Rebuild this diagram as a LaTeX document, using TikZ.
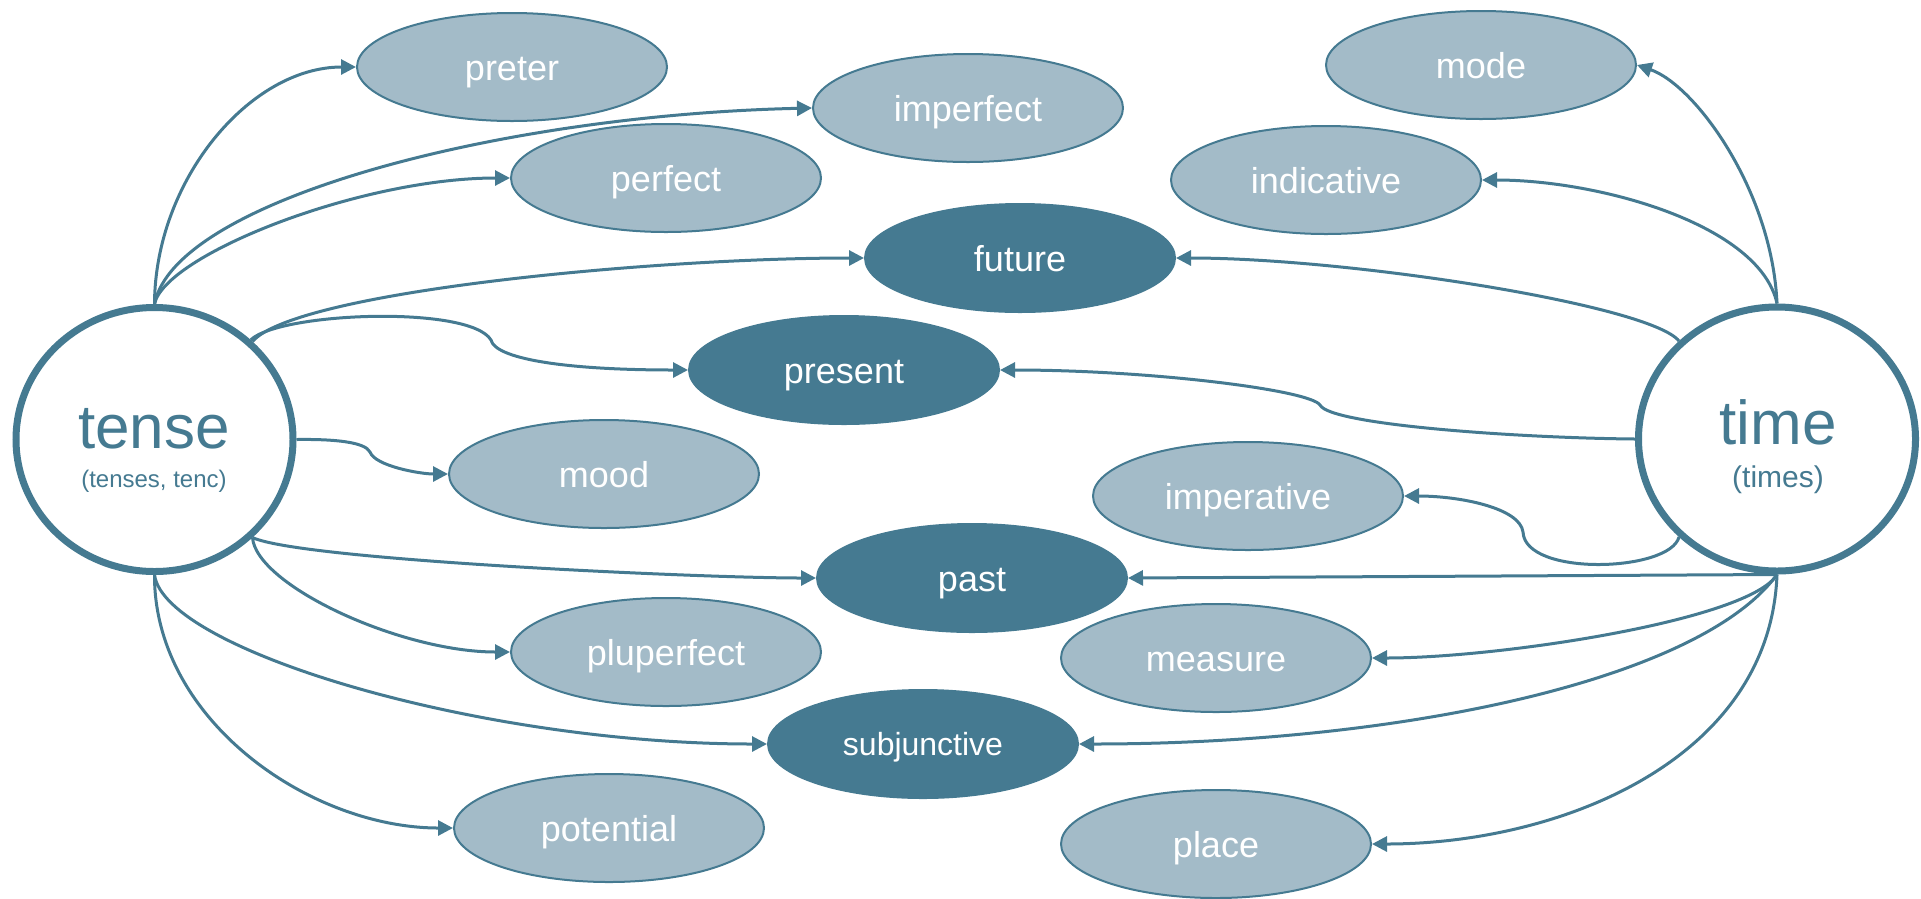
\documentclass[tikz,border=0pt]{standalone}
\usepackage{fontspec}
\setmainfont{Liberation Sans}
\usetikzlibrary{arrows.meta,shapes.geometric}
\definecolor{dk}{HTML}{457A91}
\definecolor{lt}{HTML}{A3BBC8}
\begin{document}
\begin{tikzpicture}[x=1pt,y=-1pt,
  hub/.style={ellipse,draw=dk,line width=7pt,fill=white,minimum width=277pt,minimum height=264pt,inner sep=0pt},
  light/.style={ellipse,draw=dk,line width=2pt,fill=lt,text=white,minimum width=310pt,minimum height=108pt,inner sep=0pt,text height=26pt,text depth=0pt,font=\fontsize{36}{40}\selectfont},
  dark/.style={light,fill=dk},
  link/.style={draw=dk,line width=3pt,-{Triangle[length=15pt,width=15pt]}},
  hubtext/.style={text=dk,anchor=base,inner sep=0pt}]
\useasboundingbox (0,0) rectangle (1921,898);

% hubs
\node[hub] (tense) at (154.5,439.5) {};
\node[hubtext,font=\fontsize{62}{62}\selectfont] (tenseword) at (154,448) {tense};
\node[hubtext,font=\fontsize{24}{24}\selectfont] (tensesub) at (154,487) {(tenses, tenc)};
\node[hub] (time) at (1777,439) {};
\node[hubtext,font=\fontsize{62}{62}\selectfont] (timeword) at (1778,444) {time};
\node[hubtext,font=\fontsize{30}{30}\selectfont] (timesub) at (1778,487) {(times)};

% ellipses
\node[light] (preter) at (512,67) {preter};
\node[light] (imperfect) at (968,108) {imperfect};
\node[light] (perfect) at (666,178) {perfect};
\node[light] (mode) at (1481,65) {mode};
\node[light] (indicative) at (1326,180) {indicative};
\node[dark] (future) at (1020,258) {future};
\node[dark] (present) at (844,370) {present};
\node[light] (mood) at (604,474) {mood};
\node[light] (imperative) at (1248,496) {imperative};
\node[dark] (past) at (972,578) {past};
\node[light] (pluperfect) at (666,652) {pluperfect};
\node[light] (measure) at (1216,658) {measure};
\node[dark,font=\fontsize{32}{36}\selectfont,text height=23pt] (subjunctive) at (923,744) {subjunctive};
\node[light] (potential) at (609,828) {potential};
\node[light] (place) at (1216,844) {place};

% connectors from tense
\draw[link] (tense.north) .. controls (155,180) and (250,67) .. (preter.west);
\draw[link] (tense.north) .. controls (175,200) and (500,115) .. (imperfect.west);
\draw[link] (tense.north) .. controls (165,255) and (360,178) .. (perfect.west);
\draw[link] (tense.45) .. controls (295,292) and (650,258) .. (future.west);
\draw[link] (tense.46) .. controls (280,312) and (470,305) .. (491,340)
  .. controls (495,358) and (560,370) .. (present.west);
\draw[link] (tense.east) .. controls (335,439) and (365,442) .. (370,452)
  .. controls (375,466) and (420,474) .. (mood.west);
\draw[link] (tense.-45) .. controls (300,560) and (700,578) .. (past.west);
\draw[link] (tense.-45) .. controls (256,585) and (400,652) .. (pluperfect.west);
\draw[link] (tense.south) .. controls (165,650) and (480,744) .. (subjunctive.west);
\draw[link] (tense.south) .. controls (154,720) and (310,828) .. (potential.west);

% connectors from time
\draw[link] (time.north) .. controls (1772,190) and (1695,85) .. (mode.east);
\draw[link] (time.north) .. controls (1760,225) and (1600,180) .. (indicative.east);
\draw[link] (time.135) .. controls (1650,305) and (1350,258) .. (future.east);
\draw[link] (time.west) .. controls (1520,438) and (1330,425) .. (1320,405)
  .. controls (1310,390) and (1150,370) .. (present.east);
\draw[link] (time.-135) .. controls (1670,572) and (1525,577) .. (1523,532)
  .. controls (1520,508) and (1460,496) .. (imperative.east);
\draw[link] (time.south) -- (past.east);
\draw[link] (time.south) .. controls (1750,620) and (1500,658) .. (measure.east);
\draw[link] (time.south) .. controls (1700,680) and (1400,744) .. (subjunctive.east);
\draw[link] (time.south) .. controls (1770,760) and (1560,844) .. (place.east);
\end{tikzpicture}
\end{document}
